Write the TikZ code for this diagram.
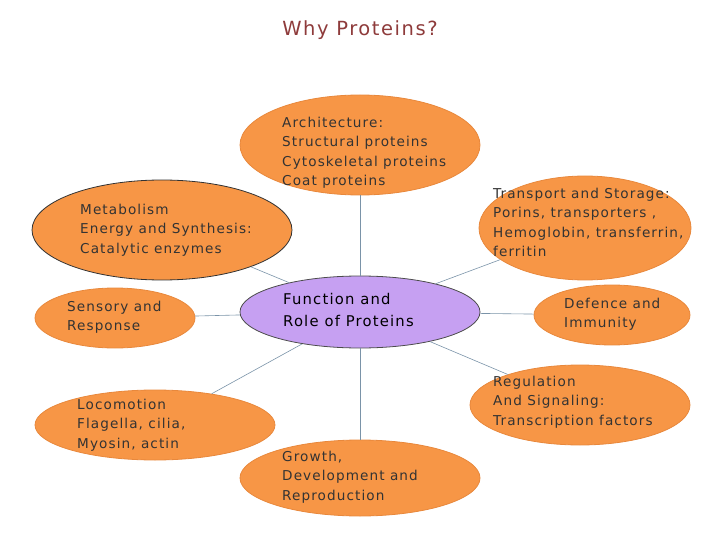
\documentclass[tikz,border=0pt]{standalone}
\usepackage{fontspec}
\setmainfont{DejaVu Sans}
\newfontfamily\spaced[LetterSpace=8]{DejaVu Sans}
\usetikzlibrary{shapes.geometric}
\definecolor{orfill}{HTML}{F79646}
\definecolor{ordraw}{HTML}{E8883C}
\definecolor{pufill}{HTML}{C6A0F2}
\definecolor{lnk}{HTML}{7A93A8}
\definecolor{ttl}{HTML}{8E3B3B}
\definecolor{txt}{HTML}{333333}
\begin{document}
\begin{tikzpicture}[x=1pt,y=-1pt,
  blob/.style={ellipse,fill=orfill,draw=ordraw,line width=0.8pt,inner sep=0pt},
  lbl/.style={anchor=north west,align=left,inner sep=0pt,text=txt,font=\spaced\fontsize{13.6}{19.4}\selectfont},
  link/.style={draw=lnk,line width=0.6pt}]
\useasboundingbox (0,0) rectangle (720,540);
\node[text=ttl,font=\spaced\fontsize{19.5}{22}\selectfont] (title) at (360,30) {Why Proteins?};
\node[ellipse,minimum width=240,minimum height=72,fill=pufill,draw=black!70,line width=0.8pt,inner sep=0pt] (c) at (360,312) {};
\node[blob,minimum width=240,minimum height=100] (arch) at (360,145) {};
\node[blob,minimum width=260,minimum height=100,draw=black!80] (met) at (162,230) {};
\node[blob,minimum width=160,minimum height=60] (sen) at (115,318) {};
\node[blob,minimum width=240,minimum height=70] (loc) at (155,425) {};
\node[blob,minimum width=240,minimum height=76] (gro) at (360,478) {};
\node[blob,minimum width=212,minimum height=104] (tra) at (585,228) {};
\node[blob,minimum width=156,minimum height=60] (def) at (612,315) {};
\node[blob,minimum width=220,minimum height=80] (reg) at (580,405) {};
\foreach \n in {arch,met,sen,loc,gro,tra,def,reg} \draw[link] (c) -- (\n);
\node[lbl] (tarch) at (282,117) {Architecture:\\Structural proteins\\Cytoskeletal proteins\\Coat proteins};
\node[lbl] (tmet) at (80,204) {Metabolism\\Energy and Synthesis:\\Catalytic enzymes};
\node[lbl] (tsen) at (67,301) {Sensory and\\Response};
\node[lbl] (tloc) at (77,399) {Locomotion\\Flagella, cilia,\\Myosin, actin};
\node[lbl] (tgro) at (282,451) {Growth,\\Development and\\Reproduction};
\node[lbl] (ttra) at (493,188) {Transport and Storage:\\Porins, transporters ,\\Hemoglobin, transferrin,\\ferritin};
\node[lbl] (tdef) at (564,298) {Defence and\\Immunity};
\node[lbl] (treg) at (493,376) {Regulation\\And Signaling:\\Transcription factors};
\node[lbl,text=black,font=\spaced\fontsize{14.8}{22}\selectfont] (tc) at (283,293) {Function and\\Role of Proteins};
\end{tikzpicture}
\end{document}
